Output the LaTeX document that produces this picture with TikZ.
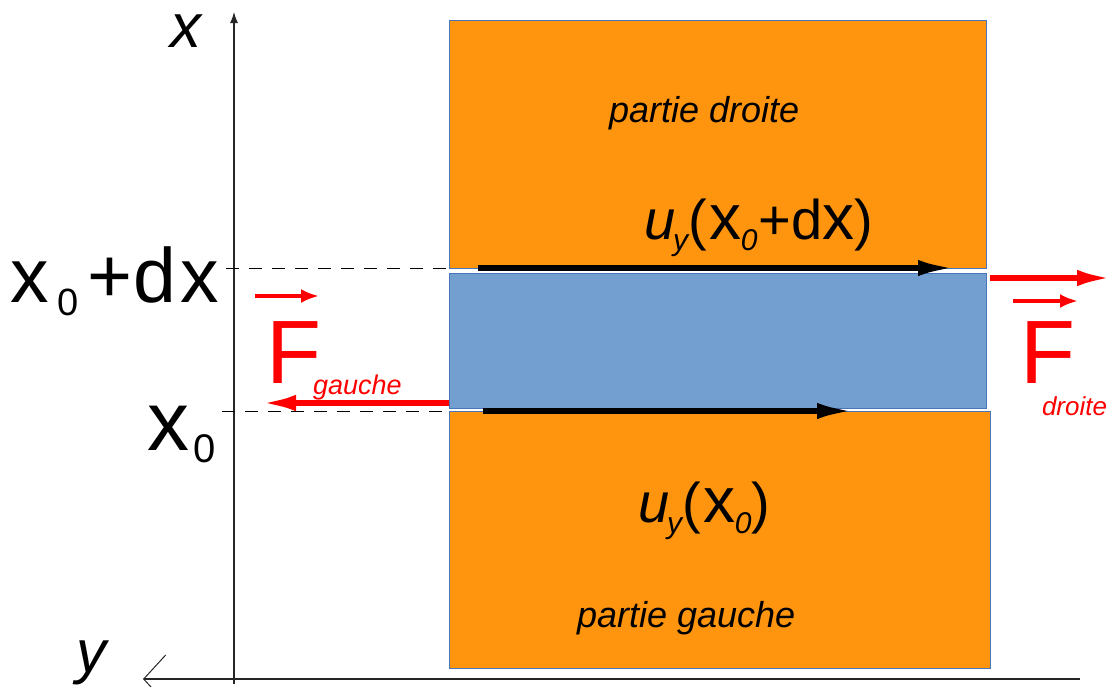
\documentclass[tikz,border=0pt]{standalone}
\usepackage{fontspec}
\setmainfont{Liberation Sans}
\usetikzlibrary{arrows.meta}
\definecolor{orng}{HTML}{FF950E}
\definecolor{blu}{HTML}{729FCF}
\definecolor{edgeblue}{HTML}{4A76B8}
\definecolor{rd}{HTML}{FF0000}
\newcommand\fsz[1]{\fontsize{#1}{#1}\selectfont}
\begin{document}
\begin{tikzpicture}[x=1pt,y=-1pt,
  slab/.style={draw=edgeblue,line width=1pt,inner sep=0pt,outer sep=0pt,anchor=north west},
  lbl/.style={inner sep=0pt,outer sep=0pt,anchor=base west},
  disp/.style={line width=6pt,-{Latex[length=38pt,width=16pt]}},
  force/.style={rd,line width=6.5pt,-{Latex[length=38pt,width=16pt]}},
  vec/.style={rd,line width=4pt,-{Latex[length=18pt,width=14pt]}},
  axis/.style={line width=1.1pt,black!85},
  guide/.style={line width=0.9pt,dash pattern=on 13pt off 10pt}]
\useasboundingbox (0,0) rectangle (1115,686);
% axes
\coordinate (vbot) at (234,684);
\coordinate (vtop) at (234,12);
\coordinate (hright) at (1080,679);
\coordinate (hleft) at (143,679);
\draw[axis,-{Latex[length=11pt,width=8pt]}] (vbot) -- (vtop);
\draw[axis,-{Straight Barb[length=22pt,width=48pt,line width=1pt]}] (hright) -- (hleft);
% slabs
\node[slab,fill=orng,minimum width=537pt,minimum height=248pt] (top) at (449,20) {};
\node[slab,fill=blu,minimum width=537pt,minimum height=135pt] (mid) at (449,273) {};
\node[slab,fill=orng,minimum width=541pt,minimum height=257pt] (bot) at (449,411) {};
% dashed guides
\coordinate (g1) at (226,268);
\coordinate (g2) at (222,411);
\draw[guide] (g1) -- (top.south west);
\draw[guide] (g2) -- (bot.north west);
% displacement arrows
\draw[disp] ([xshift=29pt]top.south west) -- ([xshift=-30pt]top.south east);
\draw[disp] ([xshift=34pt]bot.north west) -- ([xshift=-135pt]bot.north east);
% forces
\coordinate (fgs) at (449,403);
\coordinate (fge) at (258,403);
\draw[force] (fgs) -- (fge);
\coordinate (fds) at (990,278);
\coordinate (fde) at (1115,278);
\draw[force] (fds) -- (fde);
\coordinate (vg1) at (255,296);
\coordinate (vg2) at (319,296);
\draw[vec] (vg1) -- (vg2);
\coordinate (vd1) at (1013,301);
\coordinate (vd2) at (1078,301);
\draw[vec] (vd1) -- (vd2);
% labels
\node[lbl,text=rd] (Fg) at (266,383) {\fsz{90}F};
\node[lbl,text=rd] (Fgsub) at (313,394) {\fsz{27}\itshape gauche};
\node[lbl,text=rd] (Fd) at (1020,383) {\fsz{90}F};
\node[lbl,text=rd] (Fdsub) at (1042,415) {\fsz{26}\itshape droite};
\node[lbl] (xax) at (170,47) {\fsz{62}\itshape x};
\node[lbl] (yax) at (76,672) {\fsz{60}\itshape y};
\node[lbl] (xdx) at (10,302) {\fsz{77}x\hspace{9pt}\raisebox{-13pt}{\fsz{38}0}\hspace{9pt}+\hspace{1pt}d\hspace{4pt}x};
\node[lbl] (x0) at (147,450) {\fsz{84}x\hspace{4pt}\raisebox{-12pt}{\fsz{40}0}};
\node[lbl] (pd) at (609,122) {\fsz{36}\itshape partie droite};
\node[lbl] (pg) at (577,627) {\fsz{36}\itshape partie gauche};
\node[lbl] (u1) at (644,239) {\fsz{56}\itshape u\hspace{-2pt}\raisebox{-11pt}{\fsz{30}y}\upshape(\hspace{3pt}{\fsz{64}x}\hspace{-1pt}\raisebox{-11pt}{\fsz{30}\itshape 0}\hspace{1pt}+d{\fsz{64}x})};
\node[lbl] (u0) at (638,522) {\fsz{56}\itshape u\hspace{-2pt}\raisebox{-11pt}{\fsz{30}y}\upshape(\hspace{3pt}{\fsz{64}x}\hspace{-1pt}\raisebox{-11pt}{\fsz{30}\itshape 0})};
\end{tikzpicture}
\end{document}
